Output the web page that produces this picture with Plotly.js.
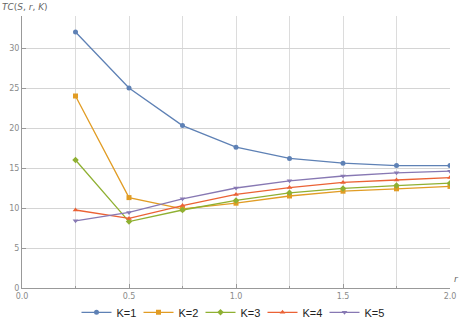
<!DOCTYPE html>
<html>
<head>
<meta charset="utf-8">
<script src="https://cdn.plot.ly/plotly-3.0.1.min.js"></script>
<style>
  html, body { margin: 0; padding: 0; background: #fff; }
  #tc { width: 463px; height: 327px; }
</style>
</head>
<body>
<div id="tc"></div>
<script>
var r = [0.25, 0.5, 0.75, 1.0, 1.25, 1.5, 1.75, 2.0];

var k1 = [32.0, 25.0, 20.3, 17.6, 16.2, 15.6, 15.3, 15.3];
var k2 = [24.0, 11.3, 9.9, 10.6, 11.5, 12.1, 12.4, 12.7];
var k3 = [16.0, 8.3, 9.75, 10.95, 11.9, 12.45, 12.8, 13.1];
var k4 = [9.75, 8.7, 10.3, 11.7, 12.55, 13.2, 13.5, 13.8];
var k5 = [8.4, 9.45, 11.15, 12.5, 13.4, 14.0, 14.4, 14.6];

var names = ['K=1', 'K=2', 'K=3', 'K=4', 'K=5'];
var colors = ['#5e81b5', '#e19c24', '#8fb032', '#eb6235', '#8778b3'];
var symbols = ['circle', 'square', 'diamond', 'triangle-up', 'triangle-down'];

var series = [k1, k2, k3, k4, k5];
var data = series.map(function (ys, i) {
  return {
    x: r,
    y: ys,
    name: names[i],
    type: 'scatter',
    mode: 'lines+markers',
    line: {color: colors[i], width: 1.3},
    marker: {color: colors[i], symbol: symbols[i], size: 5}
  };
});

var tickFont = {family: 'DejaVu Sans', size: 8, color: '#8a8a8a'};

var layout = {
  width: 463,
  height: 327,
  margin: {l: 22, r: 13, t: 16, b: 39},
  paper_bgcolor: '#fff',
  plot_bgcolor: '#fff',
  showlegend: true,
  legend: {
    orientation: 'h',
    xref: 'container', yref: 'container',
    x: 0.5, xanchor: 'center',
    y: 0.045, yanchor: 'middle',
    bgcolor: 'rgba(0,0,0,0)',
    font: {family: 'Liberation Sans', size: 11, color: '#222'},
    itemwidth: 30,
    entrywidth: 17,
    tracegroupgap: 0
  },
  xaxis: {
    range: [0, 2.0],
    tickvals: [0, 0.5, 1.0, 1.5, 2.0],
    ticktext: ['0.0', '0.5', '1.0', '1.5', '2.0'],
    tickfont: tickFont,
    ticks: 'inside',
    ticklen: 4,
    tickcolor: '#999',
    minor: {dtick: 0.25, showgrid: true, gridcolor: '#dcdcdc', ticks: 'inside', ticklen: 2, tickcolor: '#999'},
    showgrid: true,
    gridcolor: '#dcdcdc',
    showline: true,
    linecolor: '#999',
    linewidth: 1,
    zeroline: false
  },
  yaxis: {
    range: [0, 34],
    tickvals: [0, 5, 10, 15, 20, 25, 30],
    tickfont: tickFont,
    ticks: 'inside',
    ticklen: 4,
    tickcolor: '#999',
    showgrid: true,
    gridcolor: '#d4d4d4',
    showline: true,
    linecolor: '#999',
    linewidth: 1,
    zeroline: false
  },
  annotations: [
    {
      text: '<i>TC</i>(<i>S</i>, <i>r</i>, <i>K</i>)',
      xref: 'paper', yref: 'paper',
      x: 0, y: 1, xshift: -22, yshift: 2,
      xanchor: 'left', yanchor: 'bottom',
      showarrow: false,
      font: {family: 'DejaVu Sans', size: 9, color: '#666'}
    },
    {
      text: '<i>r</i>',
      xref: 'paper', yref: 'paper',
      x: 1, y: 0, xshift: 2, yshift: 2,
      xanchor: 'left', yanchor: 'bottom',
      showarrow: false,
      font: {family: 'DejaVu Sans', size: 9, color: '#666'}
    }
  ]
};

Plotly.newPlot('tc', data, layout, {displayModeBar: false, staticPlot: true});
</script>
</body>
</html>
